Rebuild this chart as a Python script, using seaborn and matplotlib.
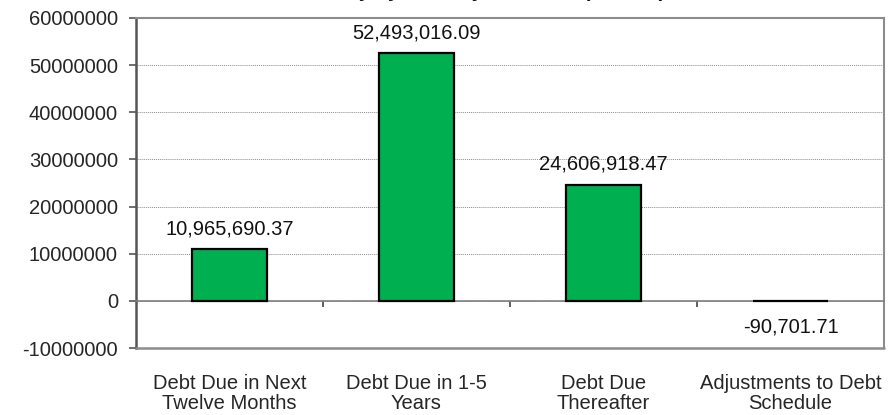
import matplotlib
matplotlib.use("Agg")
import matplotlib.pyplot as plt
import matplotlib.ticker as mticker
import seaborn as sns
import pandas as pd

categories = [
    "Debt Due in Next\nTwelve Months",
    "Debt Due in 1-5\nYears",
    "Debt Due\nThereafter",
    "Adjustments to Debt\nSchedule",
]
amounts = [10965690.37, 52493016.09, 24606918.47, -90701.71]
value_labels = ["10,965,690.37", "52,493,016.09", "24,606,918.47", "-90,701.71"]
y_ticks = [-10000000, 0, 10000000, 20000000, 30000000, 40000000, 50000000, 60000000]
title = "Debt Summary by Maturity Schedule (Dollars)"

df = pd.DataFrame({"category": categories, "amount": amounts})

sns.set_theme(style="white")
plt.rcParams["font.family"] = ["Liberation Sans", "DejaVu Sans"]

W, H = 894, 415
fig = plt.figure(figsize=(W / 100, H / 100), dpi=100)
ax = fig.add_axes([136 / W, 1 - 348 / H, (884 - 136) / W, (348 - 18) / H])

sns.barplot(data=df, x="category", y="amount", color="#00B050",
            saturation=1, width=0.4, edgecolor="black", linewidth=1.6,
            ax=ax, zorder=3)

ax.set_ylim(y_ticks[0], y_ticks[-1])
ax.set_xlim(-0.5, len(categories) - 0.5)
ax.set_yticks(y_ticks)
ax.yaxis.set_major_formatter(mticker.FuncFormatter(lambda v, p: f"{int(v)}"))
ax.grid(axis="y", color="#8c8c8c", linestyle=(0, (1, 1)), linewidth=0.7, zorder=0)
ax.set_xlabel("")
ax.set_ylabel("")

fs = 14.5
ax.tick_params(axis="y", direction="out", length=5, width=1.2, color="#555555",
               labelsize=fs, pad=8, left=True)

# Category axis sits on the zero line, with separators between categories
ax.spines["bottom"].set_position(("data", 0))
ax.spines["bottom"].set_color("#7f7f7f")
ax.spines["bottom"].set_linewidth(1.2)
ax.set_xticks([i + 0.5 for i in range(len(categories))], minor=True)
ax.tick_params(axis="x", which="minor", direction="out", length=4.5, width=1.2,
               color="#444444", bottom=True)
ax.tick_params(axis="x", which="major", length=0, labelsize=fs, pad=53)
for lab in ax.get_xticklabels():
    lab.set_linespacing(1.05)

for side in ("top", "right"):
    ax.spines[side].set_color("#8c8c8c")
    ax.spines[side].set_linewidth(1.5)
ax.spines["left"].set_color("#555555")
ax.spines["left"].set_linewidth(1.8)
# lower frame edge of the plot area
ax.plot([0, 1], [0, 0], transform=ax.transAxes, color="#8c8c8c", lw=1.8,
        clip_on=False, zorder=4)

# value labels above positive bars, below negative ones
for i, (v, txt) in enumerate(zip(amounts, value_labels)):
    if v >= 0:
        ax.annotate(txt, (i, v), xytext=(0, 8), textcoords="offset points",
                    ha="center", va="bottom", fontsize=fs, color="#111111")
    else:
        ax.annotate(txt, (i, v), xytext=(0, -12), textcoords="offset points",
                    ha="center", va="top", fontsize=fs, color="#111111")

fig.text(0.5, 1 + 2.5 / H, title, ha="center", va="baseline",
         fontsize=fs, fontweight="bold", color="#111111")

fig.savefig("out.png", dpi=100)
